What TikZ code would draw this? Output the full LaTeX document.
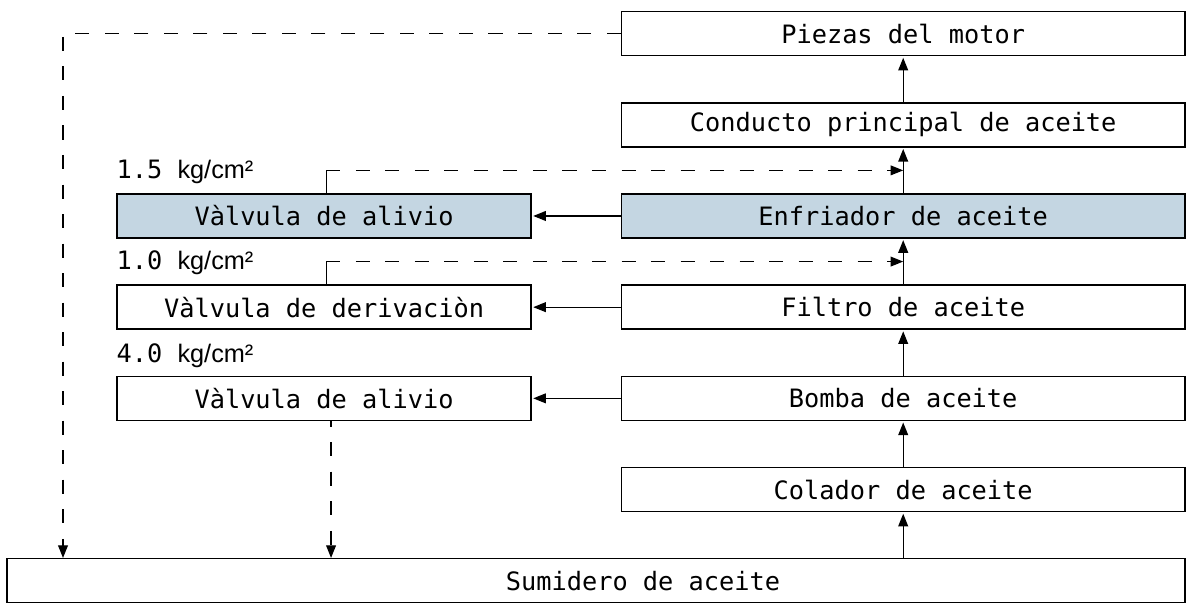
\documentclass[tikz,border=0pt]{standalone}
\usepackage{fontspec}
\setmainfont{DejaVu Sans Mono}
\newfontfamily\unitfont{Liberation Sans}
\usetikzlibrary{arrows.meta,positioning,calc}
\definecolor{azulgris}{RGB}{196,214,226}

\begin{document}
\begin{tikzpicture}[>={Triangle[length=9pt,width=7pt]},node distance=1.141cm]
  \useasboundingbox (0,0) rectangle (29.75,-15.1);
  \tikzstyle{box}=[draw,line width=1.1pt,minimum width=14.09cm,minimum height=1.1cm,inner sep=0pt,font=\fontsize{18}{20}\selectfont]
  \tikzstyle{valvula}=[box,minimum width=10.35cm]
  \tikzstyle{flecha}=[line width=0.9pt,->,shorten >=1pt]
  \tikzstyle{retorno}=[line width=0.9pt,dash pattern=on 10pt off 11pt]
  \tikzstyle{presion}=[anchor=base west,inner sep=0pt,font=\fontsize{18}{20}\selectfont]

  \node[box] (piezas) at (22.58,-0.84) {Piezas del motor};
  \node[box,below=of piezas] (conducto) {Conducto principal de aceite};
  \node[box,fill=azulgris,below=of conducto] (enfriador) {Enfriador de aceite};
  \node[box,below=of enfriador] (filtro) {Filtro de aceite};
  \node[box,below=of filtro] (bomba) {Bomba de aceite};
  \node[box,below=of bomba] (colador) {Colador de aceite};
  \node[box,minimum width=29.45cm,below=of colador,xshift=-7.68cm] (sumidero) {\hspace*{2.35cm}Sumidero de aceite};

  \node[valvula,fill=azulgris,left=2.22cm of enfriador] (alivioa) {Vàlvula de alivio};
  \node[valvula,left=2.22cm of filtro] (derivacion) {Vàlvula de derivaciòn};
  \node[valvula,left=2.22cm of bomba] (aliviob) {Vàlvula de alivio};

  \node[presion] (p15) at ($(alivioa.north west)+(0,0.37)$) {1.5 {\unitfont kg/cm²}};
  \node[presion] (p10) at ($(derivacion.north west)+(0,0.37)$) {1.0 {\unitfont kg/cm²}};
  \node[presion] (p40) at ($(aliviob.north west)+(0,0.33)$) {4.0 {\unitfont kg/cm²}};

  \draw[flecha] (colador.south |- sumidero.north) -- (colador);
  \draw[flecha] (colador) -- (bomba);
  \draw[flecha] (bomba) -- (filtro);
  \draw[flecha] (filtro) -- (enfriador);
  \draw[flecha] (enfriador) -- (conducto);
  \draw[flecha] (conducto) -- (piezas);

  \draw[flecha] (enfriador) -- (alivioa);
  \draw[flecha] (filtro) -- (derivacion);
  \draw[flecha] (bomba) -- (aliviob);

  \coordinate (c1) at ($(conducto.south)!0.5!(enfriador.north)$);
  \coordinate (c2) at ($(enfriador.south)!0.5!(filtro.north)$);
  \coordinate (v1) at ($(alivioa.north west)+(5.25,0)$);
  \coordinate (v2) at ($(derivacion.north west)+(5.25,0)$);
  \coordinate (e1) at (v1 |- c1);
  \coordinate (e2) at (v2 |- c2);
  \draw[line width=0.9pt] (v1) -- (e1);
  \draw[retorno,->] (e1) -- (c1);
  \draw[line width=0.9pt] (v2) -- (e2);
  \draw[retorno,->] (e2) -- (c2);

  \coordinate (v3) at ($(aliviob.south)+(0.175,0)$);
  \draw[retorno,->,dash phase=6pt] (v3) -- (v3 |- sumidero.north);

  \coordinate (lado) at (1.575,-8);
  \draw[retorno,->] (piezas.west) -| (lado |- sumidero.north);
\end{tikzpicture}
\end{document}
